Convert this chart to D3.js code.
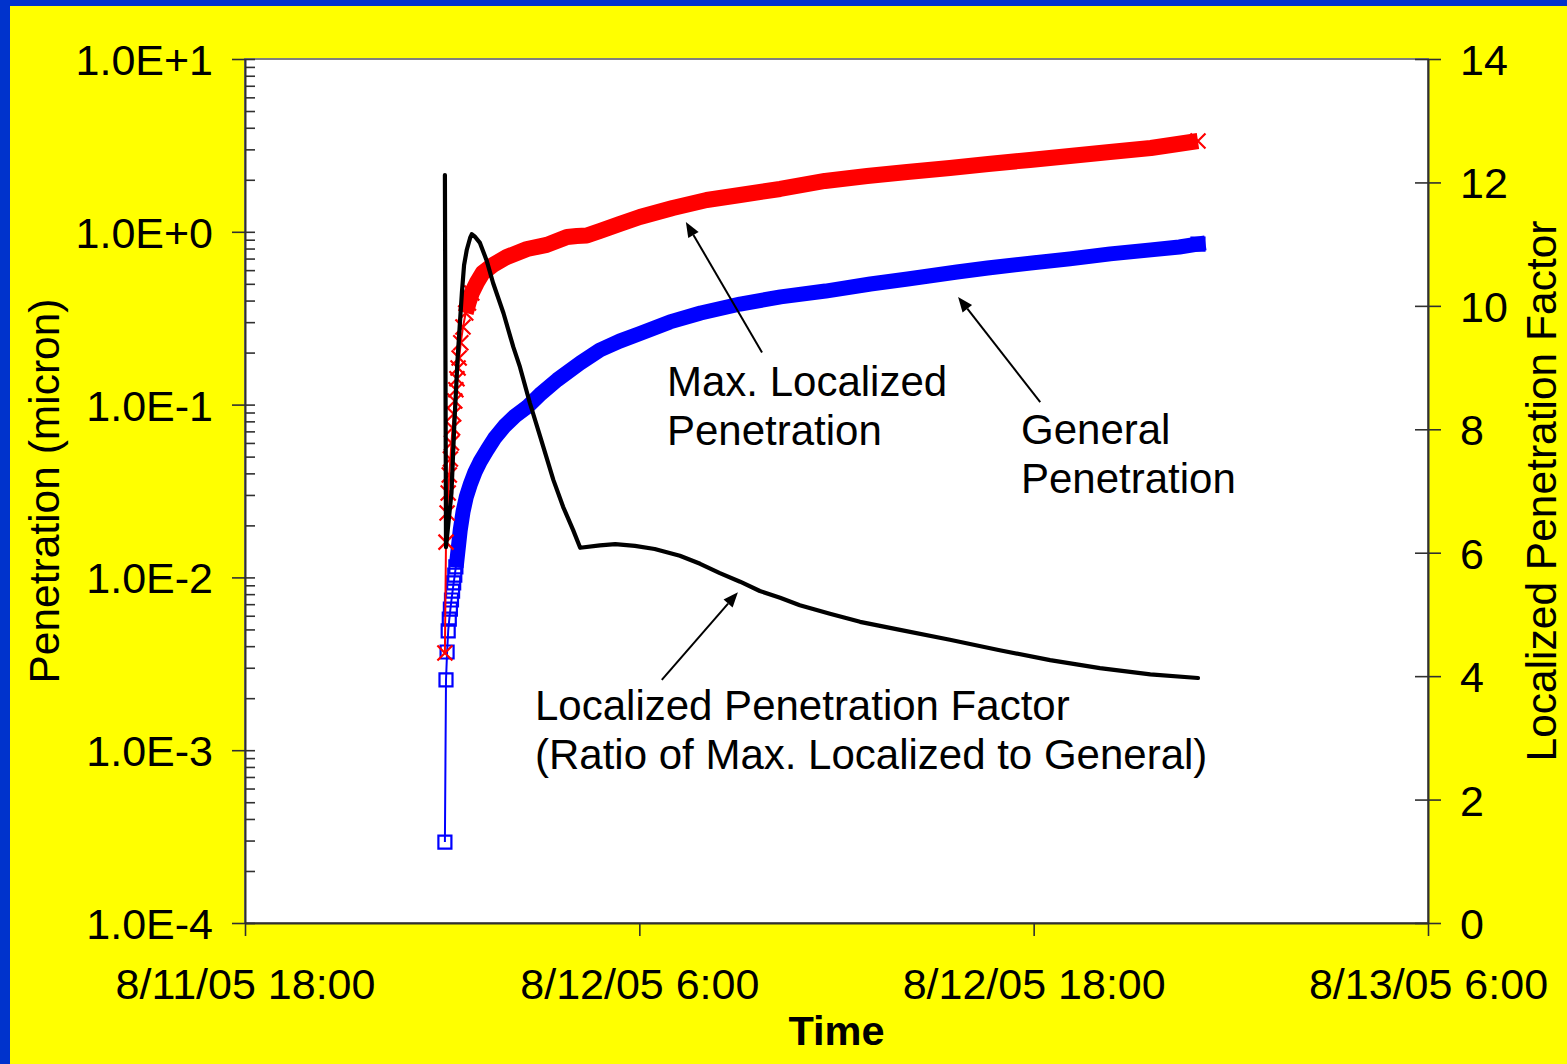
<!DOCTYPE html>
<html>
<head>
<meta charset="utf-8">
<script src="https://cdn.jsdelivr.net/npm/d3@7"></script>
<style>
  html, body { margin: 0; padding: 0; background: #ffff00; }
  svg { display: block; }
  text { font-family: "Liberation Sans", Arial, Helvetica, sans-serif; fill: #000; }
</style>
</head>
<body>
<svg id="chart" width="1567" height="1064"></svg>
<script>
// Readings are [minutes after 8/12/05 0:00, value]
const generalPenetration = [
  [5, 2.94e-4], [7, 2.55e-3], [9, 3.70e-3], [11, 4.90e-3], [13, 5.74e-3],
  [15, 6.56e-3], [17, 7.40e-3], [19, 8.33e-3], [21, 9.30e-3], [23, 1.03e-2],
  [25, 1.15e-2], [27, 1.26e-2], [33, 1.88e-2], [38, 2.39e-2], [44, 2.92e-2],
  [51, 3.43e-2], [60, 4.07e-2], [69, 4.66e-2], [82, 5.46e-2], [96, 6.41e-2],
  [114, 7.52e-2], [133, 8.59e-2], [155, 9.68e-2], [178, 0.114], [210, 0.139],
  [252, 0.174], [288, 0.207], [324, 0.233], [360, 0.257], [416, 0.301],
  [472, 0.339], [544, 0.382], [618, 0.420], [700, 0.454], [782, 0.499],
  [850, 0.533], [940, 0.585], [996, 0.617], [1074, 0.659], [1146, 0.697],
  [1220, 0.745], [1294, 0.786], [1346, 0.817], [1380, 0.849]
];

const maxLocalizedPenetration = [
  [5, 3.65e-3], [7, 1.60e-2], [9, 2.36e-2], [11, 3.08e-2], [13, 3.91e-2],
  [15, 4.84e-2], [17, 6.00e-2], [19, 7.32e-2], [21, 8.82e-2], [23, 0.105],
  [25, 0.122], [27, 0.141], [29, 0.163], [31, 0.186], [34, 0.228],
  [38, 0.281], [43, 0.339], [48, 0.387], [54, 0.442], [63, 0.506], [74, 0.578],
  [93, 0.643], [118, 0.715], [155, 0.795], [191, 0.840], [228, 0.933],
  [246, 0.946], [264, 0.951], [288, 1.011], [324, 1.110], [361, 1.218],
  [421, 1.373], [483, 1.528], [544, 1.633], [617, 1.769], [699, 1.968],
  [776, 2.103], [849, 2.219], [927, 2.340], [997, 2.469], [1073, 2.603],
  [1146, 2.746], [1219, 2.896], [1294, 3.055], [1380, 3.354]
];

const localizedFactor = [
  [5, 12.12], [7, 6.09], [17, 6.97], [22, 8.04], [28, 9.12], [36, 10.21],
  [40, 10.66], [45, 10.91], [51, 11.10], [54, 11.16], [60, 11.12], [69, 11.02],
  [81, 10.74], [93, 10.37], [112, 9.88], [130, 9.33], [142, 9.01], [160, 8.43],
  [179, 7.88], [203, 7.18], [221, 6.74], [239, 6.37], [252, 6.08], [288, 6.12],
  [316, 6.14], [352, 6.11], [388, 6.06], [434, 5.95], [471, 5.82], [507, 5.67],
  [544, 5.53], [580, 5.38], [617, 5.27], [653, 5.15], [708, 5.01], [763, 4.88],
  [836, 4.75], [927, 4.59], [1018, 4.42], [1110, 4.26], [1201, 4.13],
  [1293, 4.03], [1380, 3.97]
];

const timeTicks = [
  new Date(2005, 7, 11, 18, 0), new Date(2005, 7, 12, 6, 0),
  new Date(2005, 7, 12, 18, 0), new Date(2005, 7, 13, 6, 0)
];
const timeTickLabels = ["8/11/05 18:00", "8/12/05 6:00", "8/12/05 18:00", "8/13/05 6:00"];
const penetrationTicks = [1e-4, 1e-3, 1e-2, 1e-1, 1, 10];
const penetrationTickLabels = ["1.0E-4", "1.0E-3", "1.0E-2", "1.0E-1", "1.0E+0", "1.0E+1"];
const factorTicks = [0, 2, 4, 6, 8, 10, 12, 14];

// ---------------------------------------------------------------------------
const W = 1567, H = 1064;
const frame = { left: 245, right: 1428, top: 59, bottom: 923 };
const TICK_FONT = 43, NOTE_FONT = 42, TITLE_FONT = 42.5;
const dayStart = new Date(2005, 7, 12, 0, 0);
const toDate = m => new Date(dayStart.getTime() + m * 60000);

const svg = d3.select("#chart");

// page background with blue edge
svg.append("rect").attr("width", W).attr("height", H).attr("fill", "#0033cc");
svg.append("rect").attr("x", 10).attr("y", 6).attr("width", W - 10).attr("height", H - 6).attr("fill", "#ffff00");

// plot area
svg.append("rect")
  .attr("x", frame.left).attr("y", frame.top)
  .attr("width", frame.right - frame.left).attr("height", frame.bottom - frame.top)
  .attr("fill", "#ffffff").attr("stroke", "#808080").attr("stroke-width", 2);

const x = d3.scaleTime().domain([timeTicks[0], timeTicks[timeTicks.length - 1]]).range([frame.left, frame.right]);
const yPen = d3.scaleLog().domain([1e-4, 10]).range([frame.bottom, frame.top]);
const yFac = d3.scaleLinear().domain([0, 14]).range([frame.bottom, frame.top]);

function styleAxis(g) {
  g.attr("font-size", TICK_FONT).attr("font-family", '"Liberation Sans", Arial, sans-serif');
  g.select(".domain").attr("stroke", "#303030").attr("stroke-width", 2);
  g.selectAll(".tick line").attr("stroke", "#303030").attr("stroke-width", 1.6);
  g.selectAll(".tick text").attr("fill", "#000");
}

// left log axis: major ticks outside
const axLeft = svg.append("g").attr("transform", `translate(${frame.left},0)`)
  .call(d3.axisLeft(yPen).tickValues(penetrationTicks).tickSize(13).tickSizeOuter(0)
    .tickPadding(19).tickFormat((d, i) => penetrationTickLabels[i]))
  .call(styleAxis);
axLeft.selectAll(".tick text").attr("dy", "0.36em");

// left log axis: minor ticks inside
const minorVals = [];
for (let k = -4; k <= 0; k++) for (let m = 1; m <= 9; m++) minorVals.push(m * Math.pow(10, k));
minorVals.push(10);
svg.append("g").attr("transform", `translate(${frame.left},0)`)
  .call(d3.axisRight(yPen).tickValues(minorVals).tickSize(10).tickSizeOuter(0).tickFormat(""))
  .call(styleAxis)
  .call(g => g.select(".domain").remove());

// right linear axis, ticks crossing the line
const axRight = svg.append("g").attr("transform", `translate(${frame.right},0)`)
  .call(d3.axisRight(yFac).tickValues(factorTicks).tickSize(13).tickSizeOuter(0)
    .tickPadding(19).tickFormat(d3.format("d")))
  .call(styleAxis);
axRight.selectAll(".tick line").attr("x1", -13);
axRight.selectAll(".tick text").attr("dy", "0.36em");

// time axis
svg.append("g").attr("transform", `translate(0,${frame.bottom})`)
  .call(d3.axisBottom(x).tickValues(timeTicks).tickSize(13).tickSizeOuter(0)
    .tickPadding(32).tickFormat((d, i) => timeTickLabels[i]))
  .call(styleAxis);

// axis titles
svg.append("text")
  .attr("transform", `translate(59,${(frame.top + frame.bottom) / 2}) rotate(-90)`)
  .attr("text-anchor", "middle").attr("font-size", TITLE_FONT)
  .text("Penetration (micron)");
svg.append("text")
  .attr("transform", `translate(1556,${(frame.top + frame.bottom) / 2}) rotate(-90)`)
  .attr("text-anchor", "middle").attr("font-size", TITLE_FONT)
  .text("Localized Penetration Factor");
svg.append("text")
  .attr("x", (frame.left + frame.right) / 2).attr("y", 1045)
  .attr("text-anchor", "middle").attr("font-size", 41.5).attr("font-weight", "bold")
  .text("Time");

// ---------------------------------------------------------------------------
// series
const plotG = svg.append("g");
const penLine = d3.line().x(d => x(toDate(d[0]))).y(d => yPen(d[1]));
const facLine = d3.line().x(d => x(toDate(d[0]))).y(d => yFac(d[1]));

function drawPenSeries(data, color, opts) {
  plotG.append("path").datum(data)
    .attr("d", penLine).attr("fill", "none")
    .attr("stroke", color).attr("stroke-width", 2).attr("stroke-linejoin", "round");
  // where readings crowd together their markers merge into a solid band
  plotG.append("path").datum(data.filter(d => d[0] >= opts.bandFrom))
    .attr("d", penLine).attr("fill", "none")
    .attr("stroke", color).attr("stroke-width", opts.bandWidth)
    .attr("stroke-linejoin", "round").attr("stroke-linecap", opts.cap);
  const last = data[data.length - 1];
  plotG.append("g").selectAll("path")
    .data(data.filter(d => d[0] <= opts.markersUntil || d === last)).join("path")
    .attr("transform", d => `translate(${x(toDate(d[0]))},${yPen(d[1])})`)
    .attr("d", opts.marker).attr("fill", "none")
    .attr("stroke", color).attr("stroke-width", 2.2);
}

drawPenSeries(generalPenetration, "#0000ff", {
  bandFrom: 27, markersUntil: 25, bandWidth: 15, cap: "square",
  marker: "M-6.5,-6.5H6.5V6.5H-6.5Z"
});
drawPenSeries(maxLocalizedPenetration, "#ff0000", {
  bandFrom: 43, markersUntil: 54, bandWidth: 16, cap: "butt",
  marker: "M-7.5,-7.5L7.5,7.5M-7.5,7.5L7.5,-7.5"
});

plotG.append("path").datum(localizedFactor)
  .attr("d", facLine).attr("fill", "none")
  .attr("stroke", "#000").attr("stroke-width", 4.2)
  .attr("stroke-linejoin", "round").attr("stroke-linecap", "round");

// ---------------------------------------------------------------------------
// annotations
function arrow(x1, y1, x2, y2) {
  const ang = Math.atan2(y2 - y1, x2 - x1), len = 15, hw = 6;
  const bx = x2 - len * Math.cos(ang), by = y2 - len * Math.sin(ang);
  const nx = -Math.sin(ang) * hw, ny = Math.cos(ang) * hw;
  svg.append("line").attr("x1", x1).attr("y1", y1).attr("x2", bx).attr("y2", by)
    .attr("stroke", "#000").attr("stroke-width", 2);
  svg.append("path")
    .attr("d", `M${x2},${y2}L${bx + nx},${by + ny}L${bx - nx},${by - ny}Z`)
    .attr("fill", "#000");
}
arrow(x(toDate(584)), yPen(0.20), x(toDate(445)), yPen(1.14));
arrow(x(toDate(1092)), yPen(0.1035), x(toDate(942)), yPen(0.42));
arrow(x(toDate(401)), yFac(3.94), x(toDate(540)), yFac(5.36));

function note(lines, tx, ty, lh) {
  const t = svg.append("text").attr("font-size", NOTE_FONT);
  lines.forEach((s, i) => t.append("tspan").attr("x", tx).attr("y", ty + i * lh).text(s));
}
note(["Max. Localized", "Penetration"], 667, 396, 49);
note(["General", "Penetration"], 1021, 444, 49);
note(["Localized Penetration Factor", "(Ratio of Max. Localized to General)"], 535, 720, 49);
</script>
</body>
</html>
